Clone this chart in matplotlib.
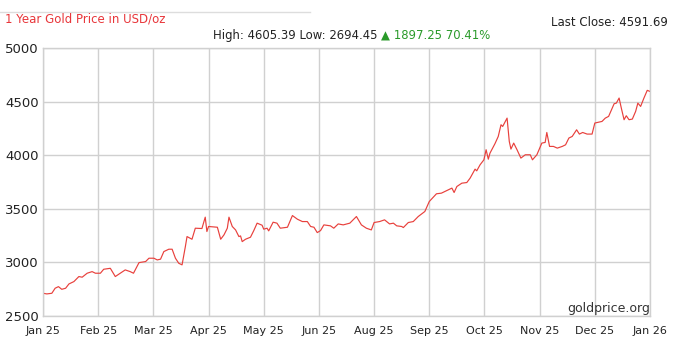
import matplotlib
matplotlib.use("Agg")
import matplotlib.pyplot as plt

# ---- data ----
month_labels = ["Jan 25", "Feb 25", "Mar 25", "Apr 25", "May 25", "Jun 25",
                "Aug 25", "Sep 25", "Oct 25", "Nov 25", "Dec 25", "Jan 26"]
y_ticks = [2500, 3000, 3500, 4000, 4500, 5000]

# position along the axis in month units (0 = Jan 25, 11 = Jan 26)
pos = [0.00, 0.07, 0.16, 0.22, 0.28, 0.34, 0.41, 0.47, 0.56, 0.65, 0.71, 0.80,
       0.89, 0.95, 1.04, 1.10, 1.22, 1.31, 1.40, 1.49, 1.58, 1.64, 1.74, 1.86,
       1.92, 2.01, 2.07, 2.13, 2.19, 2.28, 2.34, 2.40, 2.46, 2.52, 2.58, 2.61,
       2.70, 2.76, 2.88, 2.94, 2.97, 3.00, 3.16, 3.22, 3.28, 3.34, 3.37, 3.43,
       3.49, 3.55, 3.58, 3.61, 3.67, 3.76, 3.82, 3.88, 3.97, 4.00, 4.06, 4.09,
       4.17, 4.24, 4.30, 4.43, 4.52, 4.61, 4.70, 4.79, 4.85, 4.91, 4.97, 5.03,
       5.09, 5.21, 5.27, 5.35, 5.44, 5.56, 5.68, 5.77, 5.86, 5.95, 6.00, 6.10,
       6.19, 6.28, 6.35, 6.41, 6.50, 6.53, 6.62, 6.71, 6.80, 6.92, 7.00, 7.04,
       7.13, 7.22, 7.32, 7.41, 7.45, 7.50, 7.59, 7.68, 7.74, 7.83, 7.86, 7.92,
       7.99, 8.03, 8.07, 8.10, 8.19, 8.25, 8.30, 8.33, 8.41, 8.45, 8.48, 8.53,
       8.59, 8.66, 8.74, 8.83, 8.87, 8.95, 9.04, 9.10, 9.13, 9.18, 9.25, 9.32,
       9.41, 9.47, 9.53, 9.59, 9.67, 9.72, 9.78, 9.86, 9.95, 10.00, 10.13, 10.19,
       10.25, 10.35, 10.39, 10.44, 10.48, 10.53, 10.57, 10.62, 10.68, 10.74, 10.78,
       10.83, 10.89, 10.95, 11.00]
price = [2712, 2706, 2712, 2759, 2774, 2749, 2759, 2799, 2821, 2868, 2862, 2899,
         2914, 2899, 2899, 2936, 2945, 2868, 2899, 2930, 2914, 2899, 2998, 3008,
         3039, 3039, 3023, 3030, 3101, 3123, 3123, 3039, 2992, 2977, 3148, 3241,
         3216, 3319, 3316, 3422, 3288, 3335, 3328, 3216, 3257, 3319, 3422, 3335,
         3303, 3241, 3247, 3194, 3216, 3235, 3297, 3366, 3347, 3310, 3319, 3294,
         3375, 3366, 3319, 3328, 3437, 3403, 3381, 3381, 3335, 3328, 3278, 3297,
         3350, 3341, 3319, 3359, 3350, 3366, 3428, 3350, 3319, 3303, 3372, 3381,
         3397, 3359, 3366, 3341, 3335, 3325, 3372, 3381, 3428, 3475, 3568, 3590,
         3640, 3646, 3671, 3693, 3652, 3708, 3739, 3745, 3786, 3870, 3854, 3910,
         3957, 4051, 3963, 4019, 4107, 4175, 4284, 4268, 4346, 4128, 4057, 4113,
         4051, 3973, 4004, 4004, 3957, 4004, 4113, 4119, 4212, 4082, 4082, 4066,
         4082, 4097, 4160, 4175, 4237, 4197, 4212, 4197, 4197, 4300, 4315, 4346,
         4362, 4480, 4486, 4533, 4440, 4331, 4368, 4331, 4337, 4409, 4486,
         4455, 4533, 4605, 4595]

title = "1 Year Gold Price in USD/oz"
last_close = "Last Close: 4591.69"
hl_text = "High: 4605.39 Low: 2694.45 "
chg_text = "\u25B2 1897.25 70.41%"
watermark = "goldprice.org"

# ---- figure ----
fig = plt.figure(figsize=(6.75, 3.55), dpi=100)
ax = fig.add_axes([43 / 675, 39 / 355, 607 / 675, 268 / 355])

ax.plot(pos, price, color="#e8403c", lw=0.85)
ax.set_xlim(0, 11)
ax.set_ylim(2500, 5000)
ax.set_xticks(range(len(month_labels)))
ax.set_xticklabels(month_labels, fontsize=8, color="#222222")
ax.set_yticks(y_ticks)
ax.set_yticklabels([str(v) for v in y_ticks], fontsize=9.5, color="#222222")
ax.tick_params(length=0)
ax.tick_params(axis="y", pad=3)
ax.tick_params(axis="x", pad=7)
ax.grid(True, color="#d0d0d0", lw=1)
ax.set_axisbelow(True)
for s in ax.spines.values():
    s.set_color("#d0d0d0")
    s.set_linewidth(1)

ax.text(1.0, 0.005, watermark, transform=ax.transAxes, ha="right", va="bottom",
        fontsize=9, color="#333333")

# header
fig.add_artist(plt.Line2D([0, 310 / 675], [1 - 12 / 355, 1 - 12 / 355],
                          color="#dddddd", lw=1))
fig.text(5 / 675, 1 - 19 / 355, title, color="#e8363a", fontsize=8.5,
         ha="left", va="center")
fig.text(668 / 675, 1 - 22 / 355, last_close, color="#222222", fontsize=8.5,
         ha="right", va="center")
t1 = fig.text(213 / 675, 1 - 35 / 355, hl_text, color="#222222", fontsize=8.4,
              ha="left", va="center")
r = fig.canvas.get_renderer()
bb = t1.get_window_extent(renderer=r)
fig.text(bb.x1 / fig.bbox.width, 1 - 35 / 355, chg_text, color="#2a9a2a",
         fontsize=8.4, ha="left", va="center")

fig.savefig("out.png", dpi=100)
